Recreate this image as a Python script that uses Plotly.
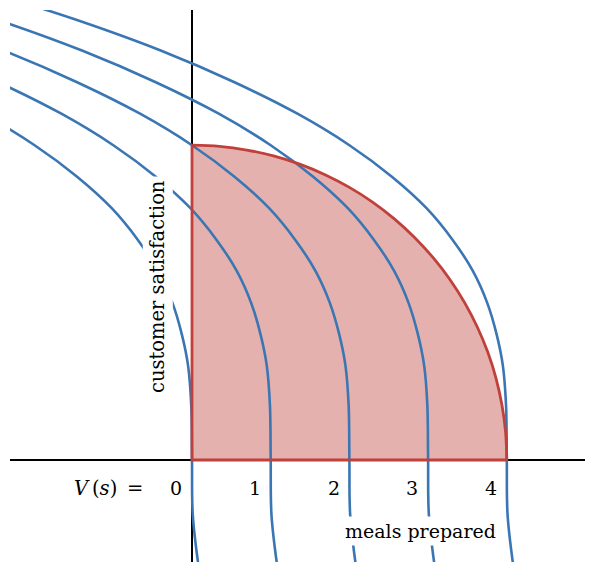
import plotly.graph_objects as go

# sample heights (customer satisfaction) along each value contour
satisfaction = [-1.4, -0.7, 0, 0.7, 1.2, 1.6, 2.0, 2.4, 2.8, 3.2, 3.6, 4.0, 4.4, 4.8, 5.2, 5.6, 6.0]

# meals prepared along the contours V(s) = 0..4
v0 = [0.09, 0.01, 0, -0.01, -0.05, -0.13, -0.25, -0.43, -0.69, -1.02, -1.46, -2.0, -2.66, -3.46, -4.39, -5.49, -6.75]
v1 = [1.09, 1.01, 1, 0.99, 0.95, 0.87, 0.75, 0.57, 0.31, -0.02, -0.46, -1.0, -1.66, -2.46, -3.39, -4.49, -5.75]
v2 = [2.09, 2.01, 2, 1.99, 1.95, 1.87, 1.75, 1.57, 1.31, 0.98, 0.54, 0.0, -0.66, -1.46, -2.39, -3.49, -4.75]
v3 = [3.09, 3.01, 3, 2.99, 2.95, 2.87, 2.75, 2.57, 2.31, 1.98, 1.54, 1.0, 0.34, -0.46, -1.39, -2.49, -3.75]
v4 = [4.09, 4.01, 4, 3.99, 3.95, 3.87, 3.75, 3.57, 3.31, 2.98, 2.54, 2.0, 1.34, 0.54, -0.39, -1.49, -2.75]
contours = [v0, v1, v2, v3, v4]

# feasible region (quarter disc)
arc_meals = [4.0, 3.985, 3.939, 3.864, 3.759, 3.625, 3.464, 3.277, 3.064, 2.828,
             2.571, 2.294, 2.0, 1.69, 1.368, 1.035, 0.695, 0.349, 0.0]
arc_satisfaction = [0.0, 0.349, 0.695, 1.035, 1.368, 1.69, 2.0, 2.294, 2.571, 2.828,
                    3.064, 3.277, 3.464, 3.625, 3.759, 3.864, 3.939, 3.985, 4.0]
edge_meals = [0, 0, 4.0]
edge_satisfaction = [4.0, 0, 0]

tick_labels = ["0", "1", "2", "3", "4"]
tick_values = [0, 1, 2, 3, 4]

blue = "#3a76b3"
red = "#c0413b"
font = "DejaVu Serif"

region_x = [0] + arc_meals + [0]
region_y = [0] + arc_satisfaction + [0]

fig = go.Figure()

fig.add_trace(go.Scatter(x=region_x, y=region_y, mode="lines", fill="toself",
                         fillcolor="rgba(190,60,55,0.4)", line=dict(width=0),
                         hoverinfo="skip"))

for xs in contours:
    fig.add_trace(go.Scatter(x=xs, y=satisfaction, mode="lines",
                             line=dict(color=blue, width=2.6, shape="spline")))

# outline of the region on top
fig.add_trace(go.Scatter(x=arc_meals, y=arc_satisfaction, mode="lines",
                         line=dict(color=red, width=2.8, shape="spline")))
fig.add_trace(go.Scatter(x=edge_meals, y=edge_satisfaction, mode="lines",
                         line=dict(color=red, width=2.8)))

annotations = []
for v, t in zip(tick_values, tick_labels):
    annotations.append(dict(x=v - 0.2, y=-0.36, text=t, showarrow=False,
                            font=dict(family=font, size=19, color="black")))
annotations.append(dict(x=-0.6, y=-0.36, text="<i>V</i>\u2009(<i>s</i>)\u2002=",
                        showarrow=False, xanchor="right",
                        font=dict(family=font, size=19.5, color="black")))
annotations.append(dict(x=2.9, y=-0.9, text="meals prepared", showarrow=False,
                        bgcolor="white", borderpad=3,
                        font=dict(family=font, size=19, color="black")))
annotations.append(dict(x=-0.43, y=2.2, text="customer satisfaction", showarrow=False,
                        textangle=-90, bgcolor="white", borderpad=3,
                        font=dict(family=font, size=19.5, color="black")))

fig.update_layout(
    width=597, height=574,
    margin=dict(l=10, r=12, t=10, b=12),
    paper_bgcolor="white", plot_bgcolor="white",
    showlegend=False,
    annotations=annotations,
    xaxis=dict(range=[-2.3126, 4.9936], showgrid=False, showticklabels=False, ticks="",
               zeroline=True, zerolinecolor="black", zerolinewidth=1.5, fixedrange=True),
    yaxis=dict(range=[-1.296, 5.718], showgrid=False, showticklabels=False, ticks="",
               zeroline=True, zerolinecolor="black", zerolinewidth=1.5, fixedrange=True),
)

# drop the default page margin so the figure sits at the window's corner
fig.write_html("out.html", config={"displayModeBar": False},
               post_script="document.body.style.margin='0';")
